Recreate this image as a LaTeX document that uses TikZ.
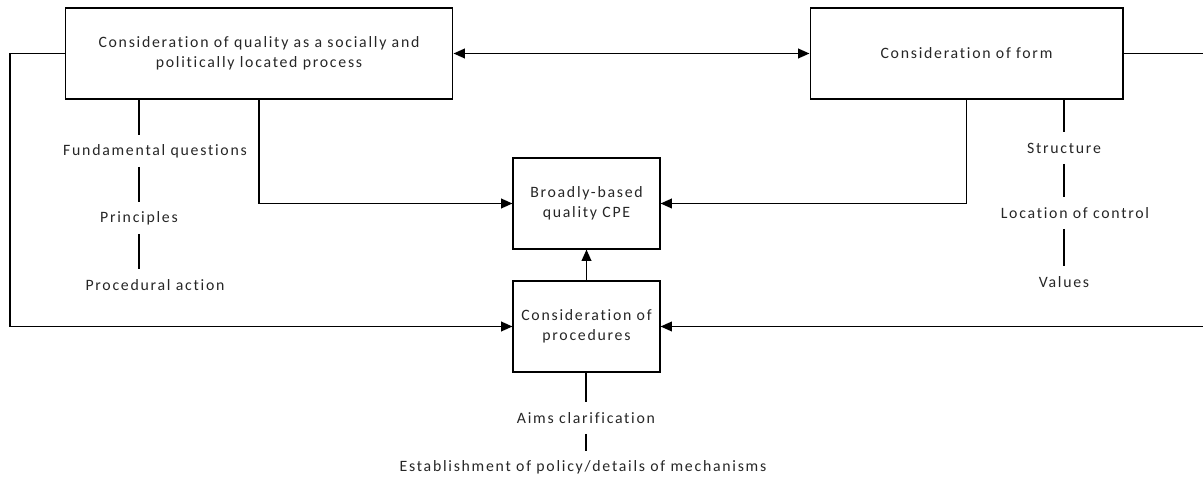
\documentclass[tikz,border=0pt]{standalone}
\usepackage{fontspec}
\setmainfont{Carlito}[LetterSpace=11, Ligatures={NoCommon}]
\usetikzlibrary{arrows.meta}

\tikzset{
  box/.style={draw, line width=0.6pt, align=center, inner sep=0pt},
  item/.style={inner sep=0pt, minimum height=0.62cm},
  link/.style={line width=1pt},
}

\begin{document}
\begin{tikzpicture}[x=0.02cm, y=-0.02cm, >={Triangle[length=6.5pt,width=5.5pt]},
    font=\fontsize{9}{11.3}\selectfont, text=black!85]
    \useasboundingbox (0,0) rectangle (1203,479);
    % boxes
    \node [box, minimum width=7.76cm, minimum height=1.82cm] (qual) at (259,53.5)
        {Consideration of quality as a socially and\\politically located process};
    \node [box, minimum width=6.26cm, minimum height=1.82cm] (form) at (966.5,53.5)
        {Consideration of form};
    \node [box, minimum width=2.94cm, minimum height=1.82cm] (cpe) at (586.5,203.5)
        {Broadly-based\\quality CPE};
    \node [box, minimum width=2.94cm, minimum height=1.82cm] (proc) at (586.5,326.5)
        {Consideration of\\procedures};
    % connectors
    \coordinate (lside) at (10,0);
    \coordinate (rside) at (1206,0);
    \draw [link,<->] (qual.east) -- (form.west);
    \draw [link,->] (qual.south) |- (cpe.west);
    \draw [link,->] (form.south) |- (cpe.east);
    \draw [link,->] (proc.north) -- (cpe.south);
    \draw [link,->] (qual.west) -- (qual.west -| lside) |- (proc.west);
    \draw [link,->] (form.east) -- (form.east -| rside) |- (proc.east);
    % left list
    \node [item] (fq) at (155,151) {Fundamental questions};
    \node [item] (pr) at (139,218) {Principles};
    \node [item] (pa) at (155,285) {Procedural action};
    \coordinate (lcol) at (139,0);
    \draw [link] (qual.south -| lcol) -- (fq.north -| lcol)
        (fq.south -| lcol) -- (pr.north) (pr.south) -- (pa.north -| lcol);
    % right list
    \node [item] (st) at (1064,148) {Structure};
    \node [item] (lc) at (1075,213) {Location of control};
    \node [item] (va) at (1064,282) {Values};
    \coordinate (rcol) at (1064,0);
    \draw [link] (form.south -| rcol) -- (st.north)
        (st.south) -- (lc.north -| rcol) (lc.south -| rcol) -- (va.north);
    % bottom list
    \node [item] (ac) at (586,418) {Aims clarification};
    \node [item] (es) at (583,467) {Establishment of policy/details of mechanisms};
    \coordinate (bcol) at (586,0);
    \draw [link] (proc.south -| bcol) -- (ac.north)
        (ac.south) -- (es.north -| bcol);
\end{tikzpicture}
\end{document}
